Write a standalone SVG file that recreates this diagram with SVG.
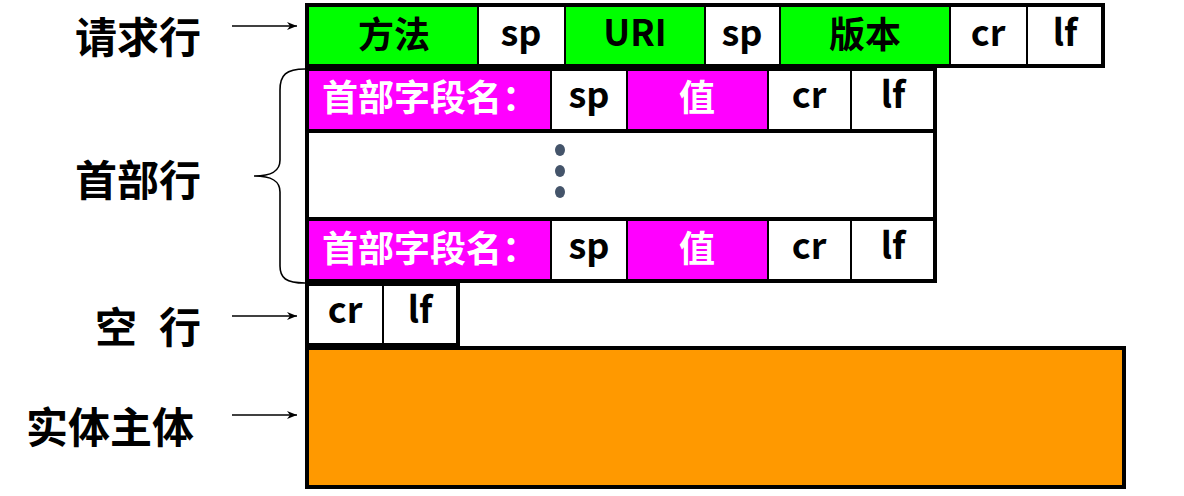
<svg xmlns="http://www.w3.org/2000/svg" width="1184" height="496" viewBox="0 0 1184 496">
<style>
.lbl{font-family:"Noto Sans CJK SC","Liberation Sans",sans-serif;font-weight:bold;font-size:42px;fill:#000}
.t{font-family:"Noto Sans CJK SC","Liberation Sans",sans-serif;font-weight:bold;font-size:36px;fill:#000;text-anchor:middle}
.w{fill:#fff}
.outer{fill:none;stroke:#000;stroke-width:4}
.div{stroke:#000;stroke-width:2}
.g{fill:#00ff00}
.m{fill:#ff00ff}
.wh{fill:#fff}
.conn{stroke:#000;stroke-width:1.6;fill:none}
</style>
<defs>
<marker id="ah" viewBox="0 0 10 8" refX="10" refY="4" markerWidth="10" markerHeight="8" markerUnits="userSpaceOnUse" orient="auto">
<path d="M0,0 L10,4 L0,8 L3,4 Z" fill="#000"/>
</marker>
</defs>
<rect width="1184" height="496" fill="#fff"/>

<g id="labels">
<text class="lbl" x="201" y="53" text-anchor="end">请求行</text>
<text class="lbl" x="201" y="196" text-anchor="end">首部行</text>
<text class="lbl" x="95" y="343">空</text>
<text class="lbl" x="159" y="343">行</text>
<text class="lbl" x="194" y="443" text-anchor="end">实体主体</text>
</g>

<g id="connectors">
<line class="conn" x1="232" y1="26" x2="297" y2="26" marker-end="url(#ah)"/>
<line class="conn" x1="232" y1="316" x2="297" y2="316" marker-end="url(#ah)"/>
<line class="conn" x1="232" y1="415" x2="297" y2="415" marker-end="url(#ah)"/>
<path class="conn" d="M305,69 C286,69 280,75 280,90 L280,160 C280,171 272,176 254,176 C272,176 280,181 280,192 L280,266 C280,278 286,283 305,283"/>
</g>

<g id="request-line">
<rect class="g" x="309" y="7" width="169" height="57"/>
<rect class="wh" x="478" y="7" width="87" height="57"/>
<rect class="g" x="565" y="7" width="140" height="57"/>
<rect class="wh" x="705" y="7" width="75" height="57"/>
<rect class="g" x="780" y="7" width="170" height="57"/>
<rect class="wh" x="950" y="7" width="152" height="57"/>
<line class="div" x1="478" y1="7" x2="478" y2="64"/>
<line class="div" x1="565" y1="7" x2="565" y2="64"/>
<line class="div" x1="705" y1="7" x2="705" y2="64"/>
<line class="div" x1="780" y1="7" x2="780" y2="64"/>
<line class="div" x1="950" y1="7" x2="950" y2="64"/>
<line class="div" x1="1027" y1="7" x2="1027" y2="64"/>
<rect class="outer" x="307" y="5" width="796" height="61"/>
<text class="t" x="394" y="48">方法</text>
<text class="t" x="521" y="46">sp</text>
<text class="t" x="635" y="46">URI</text>
<text class="t" x="742" y="46">sp</text>
<text class="t" x="865" y="48">版本</text>
<text class="t" x="988" y="46">cr</text>
<text class="t" x="1065" y="46">lf</text>
</g>

<g id="header-line-1">
<rect class="m" x="309" y="71" width="242" height="58"/>
<rect class="wh" x="551" y="71" width="76" height="58"/>
<rect class="m" x="627" y="71" width="141" height="58"/>
<rect class="wh" x="768" y="71" width="165" height="58"/>
<line class="div" x1="551" y1="71" x2="551" y2="129"/>
<line class="div" x1="627" y1="71" x2="627" y2="129"/>
<line class="div" x1="768" y1="71" x2="768" y2="129"/>
<line class="div" x1="851" y1="71" x2="851" y2="129"/>
<rect class="outer" x="307" y="69" width="628" height="62"/>
<text class="t w" x="430" y="111">首部字段名：</text>
<text class="t" x="589" y="108">sp</text>
<text class="t w" x="697" y="111">值</text>
<text class="t" x="809" y="108">cr</text>
<text class="t" x="893" y="108">lf</text>
</g>

<g id="header-dots">
<rect class="outer" x="307" y="131" width="628" height="88" fill="#fff"/>
<ellipse cx="560" cy="150" rx="5" ry="6" fill="#44546a"/>
<ellipse cx="560" cy="171" rx="5" ry="6" fill="#44546a"/>
<ellipse cx="560" cy="192" rx="5" ry="6" fill="#44546a"/>
</g>

<g id="header-line-2">
<rect class="m" x="309" y="221" width="242" height="58"/>
<rect class="wh" x="551" y="221" width="76" height="58"/>
<rect class="m" x="627" y="221" width="141" height="58"/>
<rect class="wh" x="768" y="221" width="165" height="58"/>
<line class="div" x1="551" y1="221" x2="551" y2="279"/>
<line class="div" x1="627" y1="221" x2="627" y2="279"/>
<line class="div" x1="768" y1="221" x2="768" y2="279"/>
<line class="div" x1="851" y1="221" x2="851" y2="279"/>
<rect class="outer" x="307" y="219" width="628" height="62"/>
<text class="t w" x="430" y="262">首部字段名：</text>
<text class="t" x="589" y="259">sp</text>
<text class="t w" x="697" y="262">值</text>
<text class="t" x="809" y="259">cr</text>
<text class="t" x="893" y="259">lf</text>
</g>

<g id="empty-line">
<rect class="wh" x="309" y="286" width="148" height="58"/>
<line class="div" x1="383" y1="286" x2="383" y2="344"/>
<rect class="outer" x="307" y="284" width="151" height="61"/>
<text class="t" x="345" y="323">cr</text>
<text class="t" x="420" y="323">lf</text>
</g>

<g id="entity-body">
<rect x="307" y="348" width="817" height="139" fill="#ff9900" stroke="#000" stroke-width="4"/>
</g>
</svg>
